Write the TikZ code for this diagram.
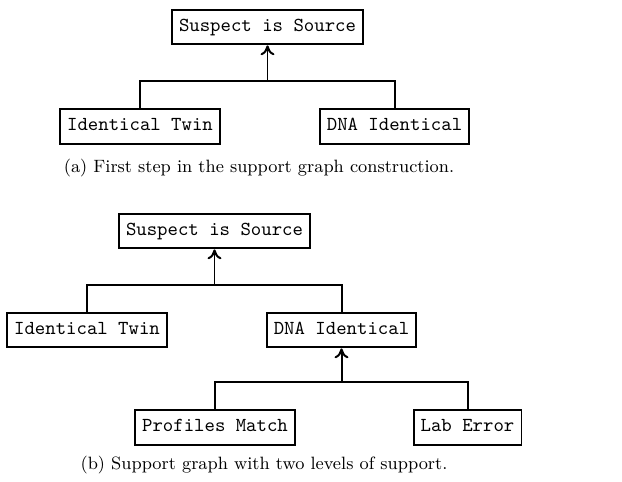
\documentclass[tikz,border=0pt]{standalone}
\usepackage{tikz}
\usetikzlibrary{arrows.meta}
\tikzset{
  claim/.style={
    draw, line width=1pt, font=\ttfamily,
    inner xsep=3.6pt, minimum height=17.5pt,
    text height=6.5pt, text depth=2pt
  },
  support/.style={line width=1pt},
  caption/.style={font=\small}
}
\begin{document}
\begin{tikzpicture}[x=0.5043pt,y=-0.5043pt]
		\useasboundingbox (0,0) rectangle (622,481);

		% (a) first step
		\node[claim] (S1) at (267.5,27) {Suspect is Source};
		\node[claim] (T1) at (140,126.5) {Identical Twin};
		\node[claim] (D1) at (394.5,126.5) {DNA Identical};
		\coordinate (J1) at (S1.south |- 0,81);
		\draw[support] (T1.north) |- (J1) -| (D1.north);
		\draw[support,-{To[length=5pt,width=7pt]}] (J1) -- (S1.south);
		\node[caption] (capA) at (259,168) {(a) First step in the support graph construction.};

		% (b) two levels
		\node[claim] (S2) at (214.5,231) {Suspect is Source};
		\node[claim] (T2) at (87,330) {Identical Twin};
		\node[claim] (D2) at (341.5,330) {DNA Identical};
		\node[claim] (P2) at (215,427.5) {Profiles Match};
		\node[claim] (L2) at (467.5,427.5) {Lab Error};
		\coordinate (J2) at (S2.south |- 0,285);
		\coordinate (J3) at (D2.south |- 0,382);
		\draw[support] (T2.north) |- (J2) -| (D2.north);
		\draw[support,-{To[length=5pt,width=7pt]}] (J2) -- (S2.south);
		\draw[support] (P2.north) |- (J3) -| (L2.north);
		\draw[support,-{To[length=5pt,width=7pt]}] (J3) -- (D2.south);
		\node[caption] (capB) at (264,465) {(b) Support graph with two levels of support.};
	  \end{tikzpicture}
\end{document}
